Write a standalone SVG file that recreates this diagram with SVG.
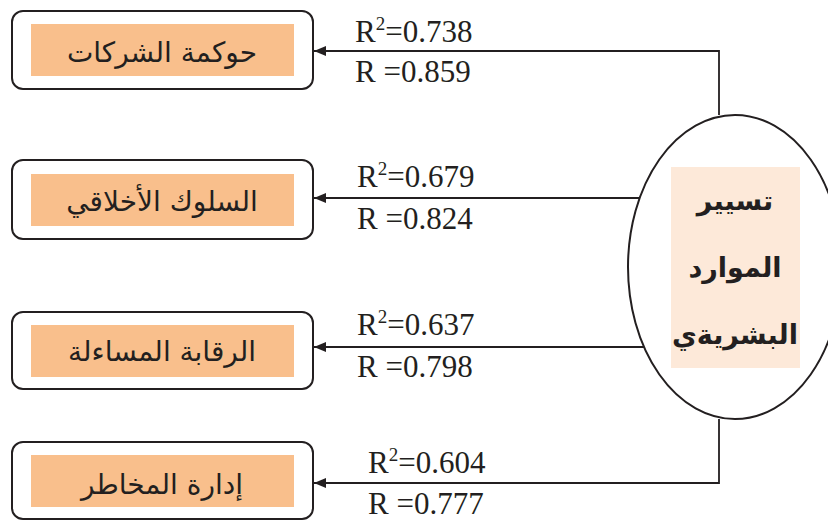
<svg xmlns="http://www.w3.org/2000/svg" width="828" height="521" viewBox="0 0 828 521">
<defs>
<style>
.box{fill:#ffffff;stroke:#231F20;stroke-width:2}
.inner{fill:#F9BF8C}
.ar{font-family:"DejaVu Sans",sans-serif;font-size:28px;fill:#231F20;text-anchor:middle}
.arb{font-family:"DejaVu Sans",sans-serif;font-size:27px;font-weight:bold;fill:#231F20;text-anchor:middle}
.num{font-family:"Liberation Serif","Times New Roman",serif;font-size:31px;fill:#231F20}
.sup{font-size:19px}
.conn{fill:none;stroke:#231F20;stroke-width:1.8}
</style>
<marker id="arr" viewBox="0 0 12 10" refX="12" refY="5" markerWidth="12" markerHeight="10" markerUnits="userSpaceOnUse" orient="auto">
<path d="M0,0 L12,5 L0,10 Z" fill="#231F20"/>
</marker>
</defs>
<rect width="828" height="521" fill="#ffffff"/>

<g id="connectors">
<path class="conn" d="M719,115 L719,51 L314,51" marker-end="url(#arr)"/>
<path class="conn" d="M640,198 L314,198" marker-end="url(#arr)"/>
<path class="conn" d="M644,347 L314,347" marker-end="url(#arr)"/>
<path class="conn" d="M719,419 L719,483 L314,483" marker-end="url(#arr)"/>
<text class="num" x="355" y="42">R<tspan class="sup" dy="-12">2</tspan><tspan dy="12">=0.738</tspan></text>
<text class="num" x="355" y="82">R =0.859</text>
<text class="num" x="357" y="187">R<tspan class="sup" dy="-12">2</tspan><tspan dy="12">=0.679</tspan></text>
<text class="num" x="357" y="229">R =0.824</text>
<text class="num" x="357" y="335">R<tspan class="sup" dy="-12">2</tspan><tspan dy="12">=0.637</tspan></text>
<text class="num" x="357" y="377">R =0.798</text>
<text class="num" x="368" y="473">R<tspan class="sup" dy="-12">2</tspan><tspan dy="12">=0.604</tspan></text>
<text class="num" x="368" y="514">R =0.777</text>
</g>

<g id="node-governance">
<rect class="box" x="12" y="11" width="301" height="78" rx="11"/>
<rect class="inner" x="31" y="24" width="263" height="52"/>
<text class="ar" x="162" y="62">حوكمة الشركات</text>
</g>

<g id="node-ethics">
<rect class="box" x="12" y="160" width="301" height="79" rx="11"/>
<rect class="inner" x="31" y="174" width="263" height="52"/>
<text class="ar" x="162" y="211">السلوك الأخلاقي</text>
</g>

<g id="node-accountability">
<rect class="box" x="12" y="312" width="301" height="77" rx="11"/>
<rect class="inner" x="31" y="325" width="263" height="52"/>
<text class="ar" x="162" y="361">الرقابة المساءلة</text>
</g>

<g id="node-risk">
<rect class="box" x="12" y="442" width="301" height="77" rx="11"/>
<rect class="inner" x="31" y="455" width="263" height="52"/>
<text class="ar" x="162" y="494">إدارة المخاطر</text>
</g>

<g id="node-hrm">
<ellipse cx="735" cy="267" rx="107" ry="152" fill="#ffffff" stroke="#231F20" stroke-width="2"/>
<rect x="671" y="167" width="129" height="201" fill="#FDE9D9"/>
<text class="arb" x="735" y="210">تسيير</text>
<text class="arb" x="735" y="277">الموارد</text>
<text class="arb" x="735" y="344">البشريةي</text>
</g>
</svg>
